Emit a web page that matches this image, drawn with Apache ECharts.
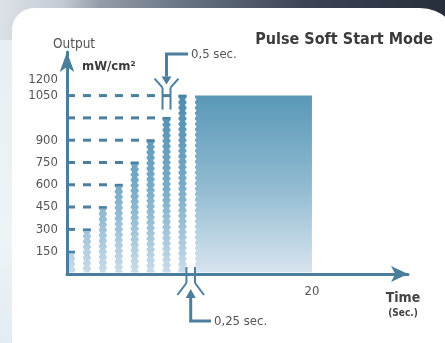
<!DOCTYPE html>
<html>
<head>
<meta charset="utf-8">
<script src="https://cdn.jsdelivr.net/npm/echarts@6/dist/echarts.min.js"></script>
<style>
  html, body { margin: 0; padding: 0; }
  body { width: 445px; height: 343px; overflow: hidden; position: relative;
         background: linear-gradient(180deg, #e6edf2 0%, #eef3f6 70%, #e2ecf3 100%); }
  #band { position: absolute; left: 0; top: 0; width: 445px; height: 40px;
          background: linear-gradient(100deg, #dde2e8 0%, #c3cad2 14%, #949eaa 22%, #6a7584 40%, #3a4454 68%, #262d3a 100%); }
  #panel { position: absolute; left: 12px; top: 8px; width: 448px; height: 360px;
           background: #ffffff; border-radius: 22px 40px 0 0; }
  #chart { position: absolute; left: 0; top: 0; width: 445px; height: 343px; }
</style>
</head>
<body>
<div id="band"></div>
<div id="panel"></div>
<div id="chart"></div>
<script>
// Vertical scale counts ramp steps; the axis labels give the output (mW/cm²) shown for each step.
const stepLabels  = ['150', '300', '450', '600', '750', '900', '1050', '1200'];
const stepLabelAt = [1, 2, 3, 4, 5, 6, 8, 8.7];

// Soft-start pulses (time in s on the drawn axis) and the step each one reaches
const pulseStart = [0, 1.3, 2.6, 3.9, 5.2, 6.5, 7.8, 9.1];
const pulseEnd   = [0.65, 1.95, 3.25, 4.55, 5.85, 7.15, 8.45, 9.75];
const pulseStep  = [1, 2, 3, 4, 5, 6, 7, 8];

// Continuous output after the ramp
const holdStart = [10.45];
const holdEnd   = [20];
const holdStep  = [8];

const timeTicks = [20];
const timeTickLabels = ['20'];

const NARROW = "'Liberation Sans Narrow', 'DejaVu Sans Condensed', 'Roboto', sans-serif";
const AXIS = '#4b7d9d';
const GUIDE = '#4d7e9e';

function rampGradient(api, dark) {
  const top = api.coord([0, 8])[1];
  const bot = api.coord([0, 0])[1];
  return new echarts.graphic.LinearGradient(0, top, 0, bot, dark ? [
    { offset: 0, color: '#4e8cae' },
    { offset: 0.5, color: '#78aac5' },
    { offset: 1, color: '#cadcea' }
  ] : [
    { offset: 0, color: '#5a98b8' },
    { offset: 0.5, color: '#8fbad0' },
    { offset: 1, color: '#d8e5ef' }
  ], true);
}

function notches(x, yTop, yBot, children) {
  for (let y = yTop + 4; y < yBot - 1; y += 5.4) {
    children.push({ type: 'circle', shape: { cx: x, cy: y, r: 1.5 },
                    style: { fill: '#ffffff' }, z2: 3 });
  }
}

function renderPulse(params, api) {
  const s = api.value(0), e = api.value(1), lvl = api.value(2);
  const a = api.coord([s, lvl]);
  const b = api.coord([e, 0]);
  const x0 = a[0], x1 = b[0], yTop = a[1], yBot = b[1] - 1.5;
  const children = [];
  // dashed guide from the output axis to the top of the pulse
  if (lvl > 1) {
    const origin = api.coord([0, lvl]);
    children.push({ type: 'line', shape: { x1: origin[0], y1: yTop, x2: x0, y2: yTop },
      style: { stroke: GUIDE, lineWidth: 3, lineDash: [8, 8] }, z2: 1 });
  }
  children.push({ type: 'rect', shape: { x: x0, y: yTop, width: x1 - x0, height: yBot - yTop },
                  style: { fill: rampGradient(api, true) }, z2: 2 });
  children.push({ type: 'rect', shape: { x: x0, y: yTop - 1, width: x1 - x0, height: 2.5 },
                  style: { fill: '#4a80a2' }, z2: 4 });
  notches(x0 - 0.2, yTop, yBot, children);
  notches(x1 + 0.2, yTop, yBot, children);
  return { type: 'group', children: children };
}

function renderHold(params, api) {
  const a = api.coord([api.value(0), api.value(2)]);
  const b = api.coord([api.value(1), 0]);
  const yBot = b[1] - 1.5;
  const children = [
    { type: 'rect', shape: { x: a[0], y: a[1], width: b[0] - a[0], height: yBot - a[1] },
      style: { fill: rampGradient(api, false) }, z2: 2 }
  ];
  notches(a[0] - 0.2, a[1], yBot, children);
  return { type: 'group', children: children };
}

const chart = echarts.init(document.getElementById('chart'), null, { renderer: 'canvas' });

chart.setOption({
  animation: false,
  backgroundColor: 'transparent',
  grid: { left: 67, right: 37, top: 52, bottom: 69 },
  xAxis: {
    type: 'value', min: 0, max: 27.84, z: 5,
    axisLine: { show: true, symbol: ['none', 'arrow'], symbolSize: [12, 17],
                lineStyle: { color: AXIS, width: 3 } },
    axisTick: { show: false },
    splitLine: { show: false },
    axisLabel: { customValues: timeTicks, margin: 11, color: '#555', fontSize: 13,
                 fontFamily: NARROW,
                 formatter: v => timeTickLabels[timeTicks.indexOf(v)] }
  },
  yAxis: {
    type: 'value', min: 0, max: 9.955, z: 5,
    axisLine: { show: true, symbol: ['none', 'arrow'], symbolSize: [11, 20],
                lineStyle: { color: AXIS, width: 3 } },
    axisTick: { show: false },
    splitLine: { show: false },
    axisLabel: { customValues: stepLabelAt, margin: 9, color: '#555', fontSize: 13,
                 fontFamily: NARROW, padding: [4, 0, 0, 0],
                 formatter: v => stepLabels[stepLabelAt.indexOf(v)] }
  },
  series: [
    { type: 'custom', name: 'pulses', renderItem: renderPulse, clip: false,
      encode: { x: [0, 1], y: 2 },
      data: pulseStart.map((s, i) => [s, pulseEnd[i], pulseStep[i]]) },
    { type: 'custom', name: 'hold', renderItem: renderHold, clip: false,
      encode: { x: [0, 1], y: 2 },
      data: holdStart.map((s, i) => [s, holdEnd[i], holdStep[i]]) }
  ]
});

// Captions and the two timing brackets
const px = (x, y) => chart.convertToPixel({ gridIndex: 0 }, [x, y]);
const ln = (x1, y1, x2, y2, w) => ({ type: 'line', z: 20,
  shape: { x1, y1, x2, y2 }, style: { stroke: GUIDE, lineWidth: w || 2 } });
const tri = (pts) => ({ type: 'polygon', z: 20, shape: { points: pts }, style: { fill: GUIDE } });
const txt = (x, y, text, opts) => ({ type: 'text', z: 20, x, y,
  style: Object.assign({ text, fill: '#555', font: '13px ' + NARROW,
                         textAlign: 'left', textVerticalAlign: 'middle' }, opts || {}) });

const top8 = px(0, 8)[1];
const base = px(0, 0)[1];
const xa = px(pulseStart[6], 0)[0], xb = px(pulseEnd[6], 0)[0];
const xc = px(pulseEnd[7], 0)[0], xd = px(holdStart[0], 0)[0];
const xm1 = (xa + xb) / 2, xm2 = (xc + xd) / 2;

const g = [
  // pulse width bracket (top)
  ln(xa, top8 - 8, xa, top8 + 14, 2), ln(xb, top8 - 8, xb, top8 + 14, 2),
  ln(xa, top8 - 8, xa - 8, top8 - 17, 2), ln(xb, top8 - 8, xb + 8, top8 - 17, 2),
  tri([[xm1 - 5, top8 - 19], [xm1 + 5, top8 - 19], [xm1, top8 - 11]]),
  ln(xm1, top8 - 19, xm1, 54, 3), ln(xm1 - 1.5, 54, 188, 54, 3),
  txt(191, 55, '0,5 sec.'),
  // pause bracket (bottom)
  ln(xc, base - 7, xc, base + 9, 2), ln(xd, base - 7, xd, base + 9, 2),
  ln(xc, base + 9, xc - 9, base + 21, 2), ln(xd, base + 9, xd + 9, base + 21, 2),
  tri([[xm2 - 5, base + 24], [xm2 + 5, base + 24], [xm2, base + 15]]),
  ln(xm2, base + 23, xm2, 321, 3), ln(xm2 - 1.5, 321, 211, 321, 3),
  txt(214, 322, '0,25 sec.'),
  // titles
  txt(433, 40, 'Pulse Soft Start Mode',
      { textAlign: 'right', fill: '#3b3b3b', font: 'bold 16px ' + NARROW }),
  txt(74, 44, 'Output', { textAlign: 'center', font: '13.5px ' + NARROW }),
  txt(82, 67, 'mW/cm²', { fill: '#3b3b3b', font: 'bold 13px ' + NARROW }),
  txt(403, 298, 'Time', { textAlign: 'center', fill: '#444', font: 'bold 14px ' + NARROW }),
  txt(403, 313, '(Sec.)', { textAlign: 'center', fill: '#444', font: 'bold 10px ' + NARROW })
];
chart.setOption({ graphic: g });
</script>
</body>
</html>
